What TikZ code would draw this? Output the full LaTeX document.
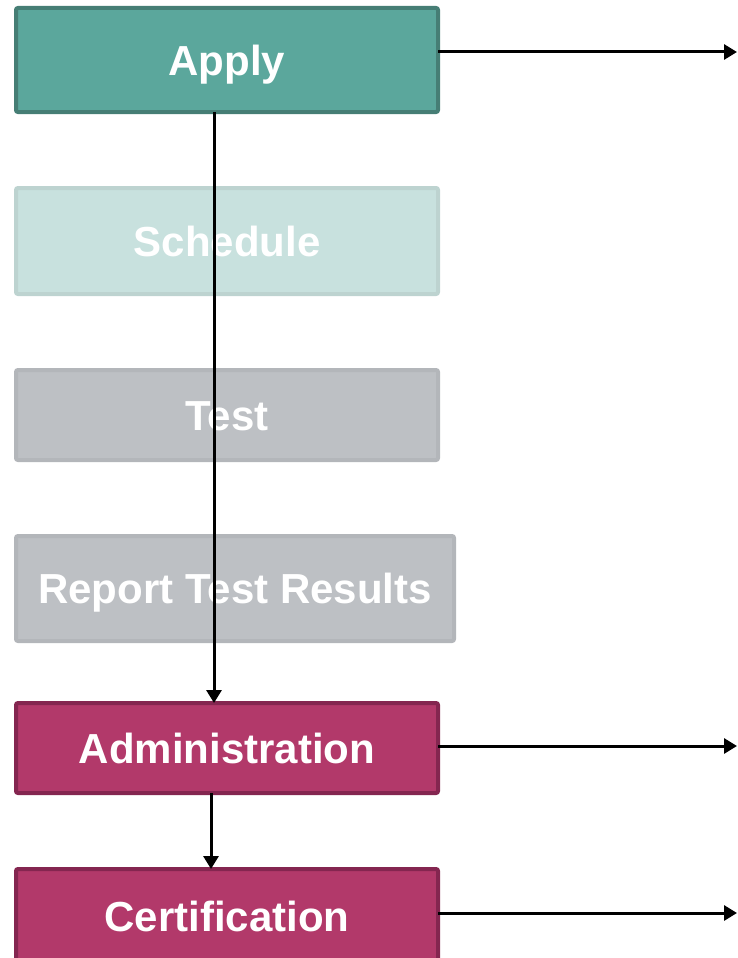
\documentclass[tikz,border=0pt]{standalone}
\usepackage{fontspec}
\setmainfont{Liberation Sans}
\usetikzlibrary{arrows.meta}
\definecolor{tealfill}{HTML}{5BA79C}
\definecolor{tealline}{HTML}{467E75}
\definecolor{palefill}{HTML}{C8E1DE}
\definecolor{paleline}{HTML}{BDD3D0}
\definecolor{greyfill}{HTML}{BDC0C4}
\definecolor{greyline}{HTML}{B3B6BA}
\definecolor{plumfill}{HTML}{B2396A}
\definecolor{plumline}{HTML}{842650}
\tikzset{
  box/.style={rectangle, rounded corners=2pt, line width=4pt, inner sep=0pt, outer sep=0pt,
    text=white, font=\fontsize{42}{48}\selectfont\bfseries, minimum width=422pt,
    text height=30pt, text depth=0pt},
  tealbox/.style={box, fill=tealfill, draw=tealline},
  palebox/.style={box, fill=palefill, draw=paleline},
  greybox/.style={box, fill=greyfill, draw=greyline},
  plumbox/.style={box, fill=plumfill, draw=plumline},
  conn/.style={line width=3pt, -{Triangle[length=13pt,width=15pt]}}
}
\begin{document}
\begin{tikzpicture}[x=1pt,y=-1pt]
\useasboundingbox (0,0) rectangle (737,958);
\begin{scope}
\clip (0,0) rectangle (737,958);
\node[tealbox, minimum height=104pt] (apply) at (227,60) {Apply};
\node[palebox, minimum height=106pt] (sched) at (227,241) {Schedule};
\node[greybox, minimum height=90pt] (test) at (227,415) {Test};
\node[greybox, minimum width=438pt, minimum height=105pt] (report) at (235,588.5) {Report Test Results};
\node[plumbox, minimum height=90pt] (admin) at (227,748) {Administration};
\node[plumbox, minimum height=94pt] (cert) at (227,916) {Certification};
\coordinate (vx) at (214,0);
\coordinate (vy) at (211,0);
\coordinate (e1) at (737,52);
\coordinate (e2) at (737,746);
\coordinate (e3) at (737,913);
\draw[conn] (apply.south -| vx) -- (admin.north -| vx);
\draw[conn] (admin.south -| vy) -- (cert.north -| vy);
\draw[conn] (apply.east |- e1) -- (e1);
\draw[conn] (admin.east |- e2) -- (e2);
\draw[conn] (cert.east |- e3) -- (e3);
\end{scope}
\end{tikzpicture}
\end{document}
